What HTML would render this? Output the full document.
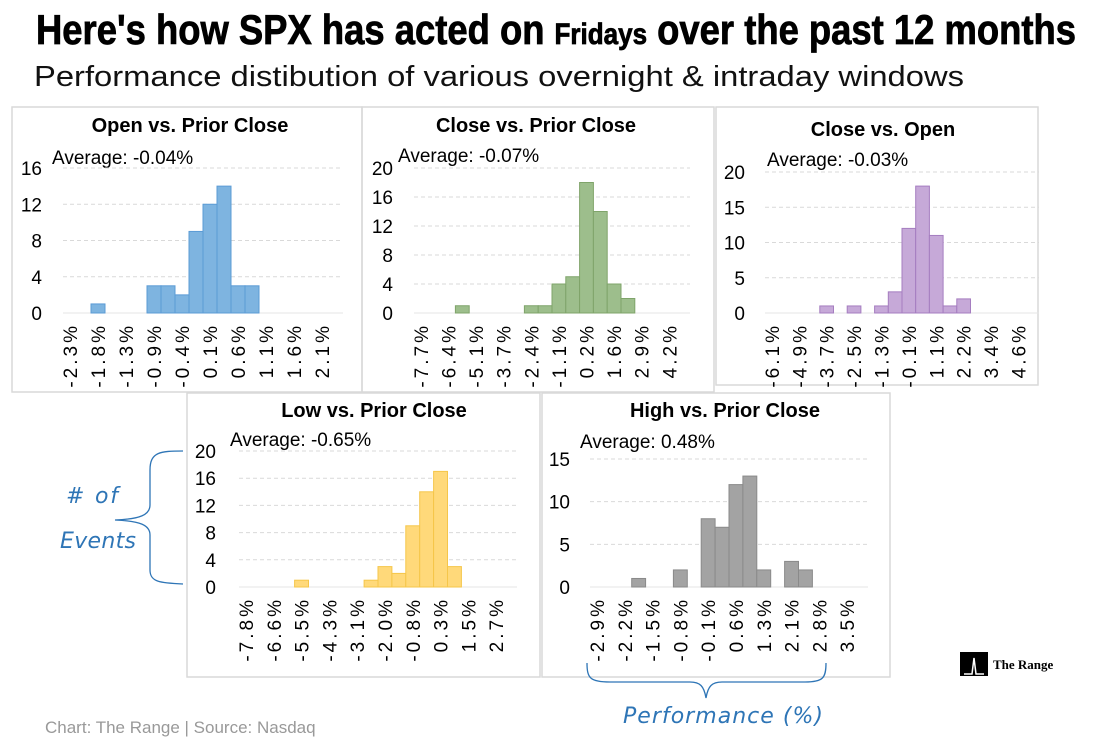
<!DOCTYPE html>
<html><head><meta charset="utf-8"><style>
body{margin:0;background:#fff;}
svg text{font-family:"Liberation Sans",sans-serif;}
</style></head><body>
<svg id="s" width="1107" height="740" viewBox="0 0 1107 740" xmlns="http://www.w3.org/2000/svg">
<rect width="1107" height="740" fill="#fff"/>
<g>
<text x="556" y="44" text-anchor="middle" font-size="42" font-weight="bold" textLength="1040" lengthAdjust="spacingAndGlyphs" stroke="#000" stroke-width="0.8" style="font-family:'Liberation Sans Narrow','Liberation Sans',sans-serif">Here's how SPX has acted on <tspan font-size="30">Fridays</tspan> over the past 12 months</text>
</g>
<text x="34" y="86" font-size="29" textLength="930" lengthAdjust="spacingAndGlyphs" fill="#111">Performance distibution of various overnight &amp; intraday windows</text>
<g id="panels"></g>
<g stroke="#2E75B6" fill="none" stroke-width="1.3">
<path d="M183,451 C160,451 150,452 150,470 L150,505 C150,515 140,519 115,520 C140,521 150,525 150,535 L150,570 C150,582 160,583 183,584"/>
</g>
<text x="66" y="503" font-size="22" fill="#2E75B6" font-style="italic" style="font-family:'DejaVu Sans',sans-serif" textLength="52">#  of</text>
<text x="60" y="548" font-size="22" fill="#2E75B6" font-style="italic" style="font-family:'DejaVu Sans',sans-serif" textLength="76">Events</text>
<g stroke="#2E75B6" fill="none" stroke-width="1.3">
<path d="M587,663 C587,678 590,682 610,682 L690,682 C700,682 704,686 706,698 C708,686 712,682 722,682 L805,682 C823,682 826,678 826,663"/>
</g>
<text x="623" y="723" font-size="22" fill="#2E75B6" font-style="italic" style="font-family:'DejaVu Sans',sans-serif" textLength="200">Performance (%)</text>
<g>
<rect x="960" y="652" width="28" height="24" fill="#000"/>
<path d="M964,674 L972,674 L974,658 L976,674 L984,674" stroke="#fff" stroke-width="1.5" fill="none"/>
<text x="993" y="669" font-size="13" font-weight="bold" style="font-family:'Liberation Serif',serif">The Range</text>
</g>
<text x="45" y="733" font-size="17" fill="#999">Chart: The Range | Source: Nasdaq</text>
</svg>
<script>
const c1Labels=["-2.3%","-1.8%","-1.3%","-0.9%","-0.4%","0.1%","0.6%","1.1%","1.6%","2.1%"];
const c1Values=[0,0,1,0,0,0,3,3,2,9,12,14,3,3,0,0,0,0,0,0];
const c1Ticks=[0,4,8,12,16];
const c2Labels=["-7.7%","-6.4%","-5.1%","-3.7%","-2.4%","-1.1%","0.2%","1.6%","2.9%","4.2%"];
const c2Values=[0,0,0,1,0,0,0,0,1,1,4,5,18,14,4,2,0,0,0,0];
const c2Ticks=[0,4,8,12,16,20];
const c3Labels=["-6.1%","-4.9%","-3.7%","-2.5%","-1.3%","-0.1%","1.1%","2.2%","3.4%","4.6%"];
const c3Values=[0,0,0,0,1,0,1,0,1,3,12,18,11,1,2,0,0,0,0,0];
const c3Ticks=[0,5,10,15,20];
const c4Labels=["-7.8%","-6.6%","-5.5%","-4.3%","-3.1%","-2.0%","-0.8%","0.3%","1.5%","2.7%"];
const c4Values=[0,0,0,0,1,0,0,0,0,1,3,2,9,14,17,3,0,0,0,0];
const c4Ticks=[0,4,8,12,16,20];
const c5Labels=["-2.9%","-2.2%","-1.5%","-0.8%","-0.1%","0.6%","1.3%","2.1%","2.8%","3.5%"];
const c5Values=[0,0,0,1,0,0,2,0,8,7,12,13,2,0,3,2,0,0,0,0];
const c5Ticks=[0,5,10,15];
const NS='http://www.w3.org/2000/svg';
const root=document.getElementById('panels');
function mk(tag,attrs,parent){const e=document.createElementNS(NS,tag);for(const k in attrs)e.setAttribute(k,attrs[k]);(parent||root).appendChild(e);return e;}
function panel(cfg,labels,values,ticks){
  const g=mk('g',{});
  
  
  const fr=mk('rect',{x:cfg.px,y:cfg.py,width:cfg.pw,height:cfg.ph,fill:'none',stroke:'#d9d9d9','stroke-width':1.5},g);
  
  
  const t=mk('text',{x:cfg.tx,y:cfg.ty,'font-size':20,'font-weight':'bold','text-anchor':'middle'},g);t.textContent=cfg.title;
  
  
  const a=mk('text',{x:cfg.ax,y:cfg.ay,'font-size':19},g);a.textContent=cfg.avg;
  
  
  const ymax=ticks[ticks.length-1];
  const yS=v=>cfg.y0-(cfg.y0-cfg.yTop)*v/ymax;
  const n=values.length, bw=cfg.bw;
  const xS=i=>cfg.x0+i*bw;
  ticks.forEach(v=>{
    const y=yS(v);
    const l=mk('line',{x1:cfg.x0,x2:xS(n),y1:y,y2:y,stroke:v===0?'#e6e6e6':'#d9d9d9','stroke-dasharray':v===0?'':'4,3','stroke-width':1},g);
    
    
    const tt=mk('text',{x:cfg.x0-cfg.tickOff,y:y+7,'font-size':19,'text-anchor':'end'},g);tt.textContent=v;
    
    
  });
  values.forEach((v,i)=>{
    if(v<=0)return;
    const r=mk('rect',{x:xS(i),y:yS(v),width:bw,height:cfg.y0-yS(v),fill:cfg.fill,stroke:cfg.stroke,'stroke-width':1},g);
    
    
  });
  labels.forEach((lb,j)=>{
    const cx=xS(j*2)+bw/2+7, cy=cfg.y0+10;
    const tx=mk('text',{x:cx,y:cy,'font-size':19,'text-anchor':'end','letter-spacing':'3',transform:`rotate(-90 ${cx} ${cy})`},g);
    tx.textContent=lb;
    
    
  });
}
panel({name:'open-vs-prior-close-panel',px:12,py:107,pw:350,ph:285,title:'Open vs. Prior Close',tx:190,ty:132,avg:'Average: -0.04%',ax:52,ay:164,x0:63,bw:14,y0:313,yTop:168,tickOff:21,fill:'#7EB4E0',stroke:'#5B9BD5'},c1Labels,c1Values,c1Ticks);
panel({name:'close-vs-prior-close-panel',px:362,py:107,pw:352,ph:285,title:'Close vs. Prior Close',tx:536,ty:132,avg:'Average: -0.07%',ax:398,ay:162,x0:414,bw:13.8,y0:313,yTop:168,tickOff:21,fill:'#9DBE8C',stroke:'#7FA46A'},c2Labels,c2Values,c2Ticks);
panel({name:'close-vs-open-panel',px:716,py:107,pw:322,ph:278,title:'Close vs. Open',tx:883,ty:136,avg:'Average: -0.03%',ax:767,ay:166,x0:765,bw:13.7,y0:313,yTop:172,tickOff:20,fill:'#C6A9D8',stroke:'#A57DC0'},c3Labels,c3Values,c3Ticks);
panel({name:'low-vs-prior-close-panel',px:187,py:393,pw:353,ph:284,title:'Low vs. Prior Close',tx:374,ty:417,avg:'Average: -0.65%',ax:230,ay:446,x0:239,bw:13.9,y0:587,yTop:451,tickOff:23,fill:'#FFD97A',stroke:'#F5C64A'},c4Labels,c4Values,c4Ticks);
panel({name:'high-vs-prior-close-panel',px:542,py:393,pw:348,ph:284,title:'High vs. Prior Close',tx:725,ty:417,avg:'Average: 0.48%',ax:580,ay:448,x0:590,bw:13.9,y0:587,yTop:459,tickOff:20,fill:'#A3A3A3',stroke:'#8A8A8A'},c5Labels,c5Values,c5Ticks);
</script>
</body></html>
